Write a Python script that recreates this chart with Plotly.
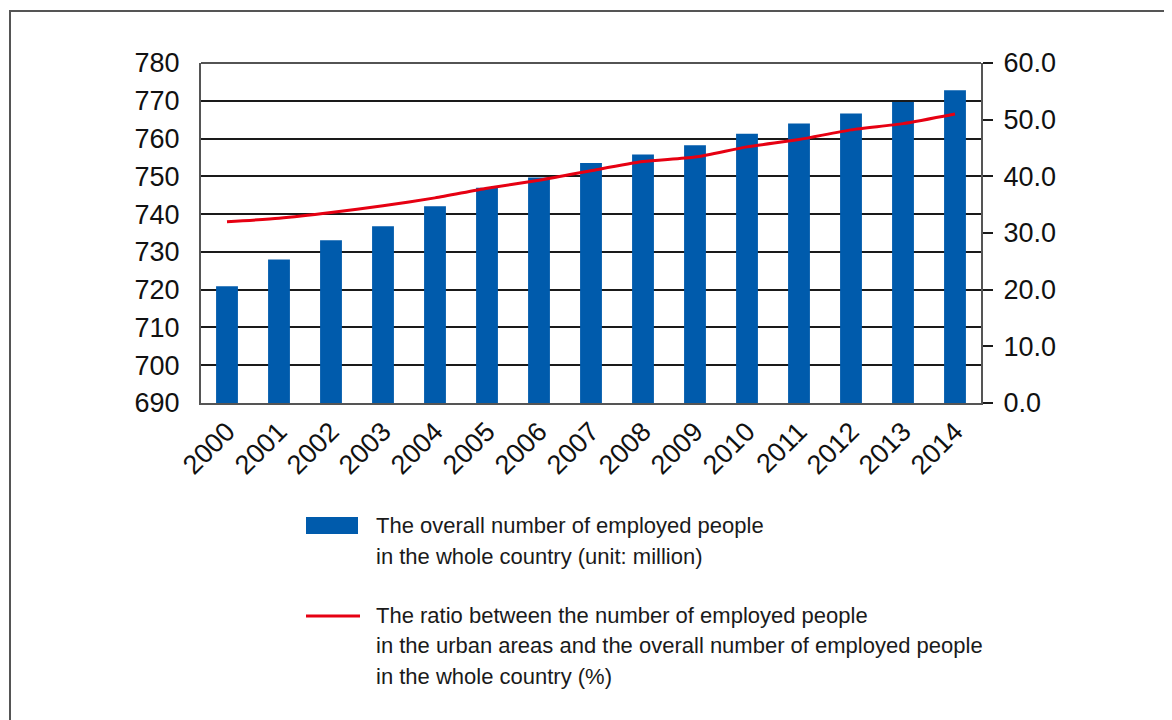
import plotly.graph_objects as go

years = ["2000", "2001", "2002", "2003", "2004", "2005", "2006", "2007",
         "2008", "2009", "2010", "2011", "2012", "2013", "2014"]
employed_total = [720.9, 728.0, 733.1, 736.8, 742.1, 747.0, 749.7, 753.5,
                  755.8, 758.2, 761.3, 764.0, 766.6, 769.7, 772.8]
urban_ratio = [32.0, 32.6, 33.6, 34.8, 36.2, 37.9, 39.3, 41.0,
               42.6, 43.4, 45.2, 46.5, 48.2, 49.3, 51.0]

legend_bar_lines = ["The overall number of employed people",
                    "in the whole country (unit: million)"]
legend_line_lines = ["The ratio between the number of employed people",
                     "in the urban areas and the overall number of employed people",
                     "in the whole country (%)"]

FONT = "Liberation Sans, Arial, sans-serif"
BLUE = "#005BAC"
RED = "#E60012"
GRID = "#1a1a1a"

fig = go.Figure()
fig.add_trace(go.Bar(x=years, y=employed_total, marker=dict(color=BLUE, line=dict(width=0)),
                     width=0.42, yaxis="y", showlegend=False))
fig.add_trace(go.Scatter(x=years, y=urban_ratio, mode="lines", yaxis="y2",
                         line=dict(color=RED, width=3, shape="spline", smoothing=0.6),
                         showlegend=False))

# page has an 8px body margin; work in page pixels and shift
OFF = 8
W, H = 1172 - OFF, 720 - OFF
L, R, T, B = 201 - OFF, 981 - OFF, 63 - OFF, 403 - OFF

def px(x):
    return (x - OFF - L) / (R - L)

def py(y):
    return (B - (y - OFF)) / (B - T)

shapes = [
    dict(type="rect", xref="paper", yref="paper", x0=px(10), x1=px(1195), y0=py(745), y1=py(11),
         line=dict(color="#555555", width=2), fillcolor="rgba(0,0,0,0)", layer="below"),
    dict(type="line", xref="paper", yref="paper", x0=0, x1=1, y0=1, y1=1,
         line=dict(color=GRID, width=1.5)),
    dict(type="rect", xref="paper", yref="paper", x0=px(306), x1=px(358), y0=py(534), y1=py(517),
         line=dict(width=0), fillcolor=BLUE),
    dict(type="line", xref="paper", yref="paper", x0=px(306), x1=px(360), y0=py(616), y1=py(616),
         line=dict(color=RED, width=3)),
]

annotations = []
for i, t in enumerate(legend_bar_lines):
    annotations.append(dict(text=t, xref="paper", yref="paper", x=px(374), y=py(525 + 31 * i),
                            xanchor="left", yanchor="middle", showarrow=False,
                            font=dict(family=FONT, size=22, color="#1a1a1a")))
for i, t in enumerate(legend_line_lines):
    annotations.append(dict(text=t, xref="paper", yref="paper", x=px(374), y=py(615 + 30.5 * i),
                            xanchor="left", yanchor="middle", showarrow=False,
                            font=dict(family=FONT, size=22, color="#1a1a1a")))

fig.update_layout(
    width=W, height=H,
    margin=dict(l=L, r=W - R, t=T, b=H - B, pad=0),
    paper_bgcolor="white", plot_bgcolor="white",
    font=dict(family=FONT, size=27, color="#111111"),
    bargap=0.58,
    xaxis=dict(type="category", tickangle=-45, showgrid=False, showline=True,
               linecolor="#555555", linewidth=2, ticks="", tickfont=dict(size=27),
               mirror=False),
    yaxis=dict(range=[690, 780], dtick=10, showgrid=True, gridcolor=GRID, gridwidth=1.5,
               showline=True, linecolor="#555555", linewidth=2, ticks="",
               tickfont=dict(size=27), ticklabelstandoff=14, zeroline=False),
    yaxis2=dict(range=[0, 60], dtick=10, tickformat=".1f", overlaying="y", side="right",
                showgrid=False, showline=True, linecolor="#555555", linewidth=2,
                ticks="outside", ticklen=10, tickcolor=GRID, tickwidth=1.5,
                tickfont=dict(size=27), ticklabelstandoff=5, zeroline=False),
    shapes=shapes,
    annotations=annotations,
)

fig.write_html("out.html")
